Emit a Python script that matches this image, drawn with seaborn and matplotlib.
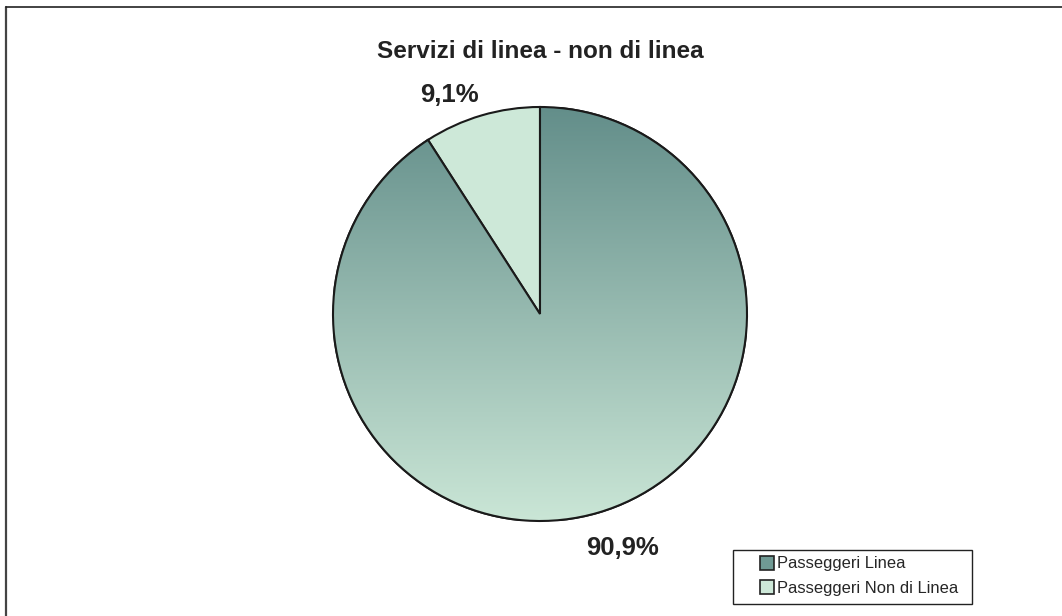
import numpy as np
import matplotlib
matplotlib.use("Agg")
import matplotlib.pyplot as plt
import seaborn as sns
from matplotlib.colors import LinearSegmentedColormap
from matplotlib.patches import Rectangle, Wedge
from matplotlib.lines import Line2D

categories = ["Passeggeri Linea", "Passeggeri Non di Linea"]
values = [90.9, 9.1]
title = "Servizi di linea - non di linea"

sns.set_theme(style="white")
plt.rcParams['font.family'] = ['Liberation Sans', 'DejaVu Sans']

W, H = 1062, 616
fig = plt.figure(figsize=(W / 100, H / 100), dpi=100)
fig.patch.set_facecolor("white")

cx, cy, r = 540, 314, 207
ax = fig.add_axes([(cx - r) / W, (H - cy - r) / H, 2 * r / W, 2 * r / H])

colors = ["#8fb2aa", "#cde8d8"]
wedges, texts, autotexts = ax.pie(
    values, colors=colors, startangle=90, counterclock=False,
    autopct=lambda p: f"{p:.1f}%".replace(".", ","), pctdistance=1.18,
    wedgeprops=dict(edgecolor="#1a1a1a", linewidth=1.5),
    textprops=dict(fontsize=18.5, fontweight="bold", color="#222222"),
)

# label placement offsets (style): distance and angle offset from slice middle
label_place = [(1.20, 2.9), (1.145, 6.2)]
for w, t, (d, off) in zip(wedges, autotexts, label_place):
    ang = np.deg2rad((w.theta1 + w.theta2) / 2 + off)
    t.set_position((d * np.cos(ang), d * np.sin(ang)))
    t.set_ha("center")
    t.set_va("center")

# vertical gradient fill for the large slice
cmap = LinearSegmentedColormap.from_list("g", ["#cae6d6", "#638e8a"])
grad = np.linspace(0, 1, 256).reshape(-1, 1)
im = ax.imshow(grad, extent=(-1, 1, -1, 1), origin="lower", cmap=cmap,
               aspect="auto", zorder=wedges[0].get_zorder() + 0.1)
im.set_clip_path(wedges[0])
outline = Wedge((0, 0), 1, wedges[0].theta1, wedges[0].theta2,
                fill=False, edgecolor="#1a1a1a", linewidth=1.5,
                zorder=im.get_zorder() + 0.1)
ax.add_patch(outline)
ax.set_xlim(-1, 1)
ax.set_ylim(-1, 1)
ax.axis("off")

fig.text(cx / W, 1 - 52 / H, title, ha="center", va="center",
         fontsize=17.5, fontweight="bold", color="#222222")

# legend
handles = [Line2D([0], [0], marker="s", linestyle="none", markersize=9.5,
                  markerfacecolor=c, markeredgecolor="#222222", markeredgewidth=1.2)
           for c in ["#6f9a94", colors[1]]]
leg = fig.legend(handles, categories, loc="center left",
                 bbox_to_anchor=(760 / W, 1 - 576 / H), frameon=False,
                 fontsize=11.9, handlelength=0.8, handletextpad=0.25,
                 borderpad=0, labelspacing=0.56, borderaxespad=0)
fig.add_artist(Rectangle((733 / W, 1 - 604 / H), (972 - 733) / W, (604 - 550) / H,
                         transform=fig.transFigure, fill=False,
                         edgecolor="#222222", linewidth=1.0))

# partial outer border (left and top)
fig.add_artist(Line2D([5.5 / W, 5.5 / W], [0, 1 - 7 / H], transform=fig.transFigure,
                      color="#444444", linewidth=1.6))
fig.add_artist(Line2D([5.5 / W, 1], [1 - 7 / H, 1 - 7 / H], transform=fig.transFigure,
                      color="#222222", linewidth=1.2))

fig.savefig("out.png", dpi=100)
